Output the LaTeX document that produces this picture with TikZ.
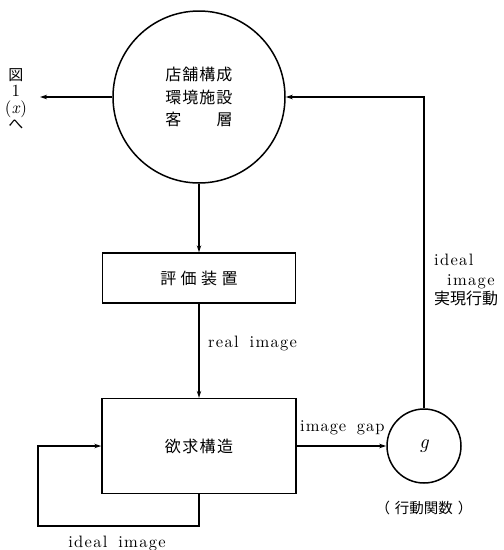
\documentclass[tikz,border=0pt]{standalone}
\usepackage{fontspec}
\setmainfont{lmroman10-regular.otf}[ItalicFont=lmroman10-italic.otf,BoldFont=lmroman10-bold.otf]
\newfontfamily\cjk{Noto Sans CJK JP}
\usetikzlibrary{arrows.meta}
\begin{document}
\begin{tikzpicture}[x=1pt,y=-1pt,
  arr/.style={line width=1.1pt,-{Stealth[length=7pt,width=4.5pt]}},
  bigcirc/.style={circle,draw,line width=1.5pt,inner sep=0pt},
  stepbox/.style={rectangle,draw,line width=1.4pt,inner sep=0pt},
  lat/.style={font=\fontsize{16.5}{20}\selectfont\addfontfeatures{LetterSpace=8},inner sep=0pt}
]
\useasboundingbox (0,0) rectangle (504,550);
% nodes
\node[bigcirc,minimum size=172pt,align=left,
      font=\cjk\fontsize{16}{22.5}\selectfont\addfontfeatures{LetterSpace=6}] (c) at (199,97)
  {店舗構成\\環境施設\\客\hspace{2.2em}層};
\node[stepbox,minimum width=193pt,minimum height=50pt,
      font=\cjk\fontsize{16}{20}\selectfont\addfontfeatures{LetterSpace=28}] (eval) at (199,278) {評価装置};
\node[stepbox,minimum width=194pt,minimum height=95pt,
      font=\cjk\fontsize{16}{20}\selectfont\addfontfeatures{LetterSpace=9}] (want) at (199,446) {欲求構造};
\node[bigcirc,minimum size=74pt,font=\fontsize{20}{20}\selectfont\itshape] (g) at (424,446) {g};
\node[font=\cjk\fontsize{14.5}{16}\selectfont,inner sep=0pt] (gl) at (424,508) {（\hspace{5pt}行動関数\hspace{5pt}）};
\node[align=center,inner sep=0pt,font=\fontsize{17}{16.4}\selectfont] (fig) at (16,99)
  {{\cjk\fontsize{15}{16.4}\selectfont 図}\\1\\(\textit{x})\\{\cjk\fontsize{15}{16.4}\selectfont へ}};
\coordinate (figend) at (40,97);
\node[lat,anchor=west] (real) at (208,343) {real\hspace{4pt} image};
\node[lat,anchor=west,font=\fontsize{16.5}{20}\selectfont\addfontfeatures{LetterSpace=6}] (gap) at (300,428) {image\hspace{4pt} gap};
\node[lat] (ideal) at (117,543) {ideal\hspace{4pt} image};
\node[align=left,anchor=north west,inner sep=0pt,font=\fontsize{16.5}{19.5}\selectfont] (act) at (434,254)
  {{\addfontfeatures{LetterSpace=8}ideal}\\\hspace{13pt}{\addfontfeatures{LetterSpace=8}image}\\{\cjk\fontsize{16}{19.5}\selectfont 実現行動}};
\coordinate (lb) at (38,526);
% connectors
\draw[arr] (c.west) -- (figend);
\draw[arr] (c.south) -- (eval.north);
\draw[arr] (eval.south) -- (want.north);
\draw[arr] (want.east) -- (g.west);
\draw[arr] (g.north) |- (c.east);
\draw[arr] (want.south) |- (lb) |- (want.west);
\end{tikzpicture}
\end{document}
